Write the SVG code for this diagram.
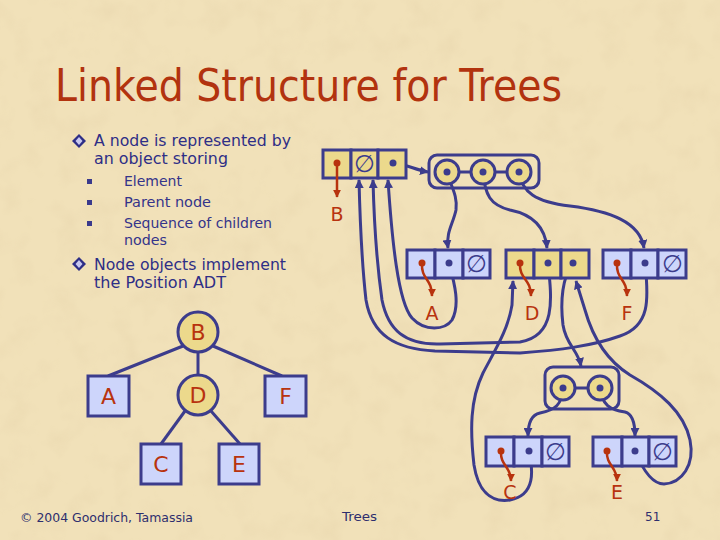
<svg xmlns="http://www.w3.org/2000/svg" width="720" height="540" viewBox="0 0 720 540">
<defs>
<style>
.title{font-family:"DejaVu Sans","Liberation Sans",sans-serif;font-size:44px;fill:#b2330f}
.body{font-family:"DejaVu Sans","Liberation Sans",sans-serif;font-size:16px;fill:#2e2e86}
.sub{font-family:"DejaVu Sans","Liberation Sans",sans-serif;font-size:14px;fill:#34348a}
.foot{font-family:"DejaVu Sans","Liberation Sans",sans-serif;font-size:12px;fill:#2e2e6e}
.lbl{font-family:"DejaVu Sans","Liberation Sans",sans-serif;font-size:19px;fill:#b8330e;text-anchor:middle}
.tl{font-family:"DejaVu Sans","Liberation Sans",sans-serif;font-size:22px;fill:#b8330e;text-anchor:middle}
.nul{font-family:"DejaVu Sans","Liberation Sans",sans-serif;font-size:24px;fill:#3c3c8c;text-anchor:middle;font-weight:200}
.cy{fill:#ecd98c;stroke:#3c3c8c;stroke-width:3}
.cb{fill:#cdd5fb;stroke:#3c3c8c;stroke-width:3}
.dot{fill:#3c3c8c}
.rdot{fill:#b8330e}
.link{fill:none;stroke:#3c3c8c;stroke-width:3;marker-end:url(#ah)}
.plain{fill:none;stroke:#3c3c8c;stroke-width:3}
.rlink{fill:none;stroke:#b8330e;stroke-width:2.5;marker-end:url(#rah)}
.cont{fill:none;stroke:#3c3c8c;stroke-width:3}
.circ{fill:#ecd98c;stroke:#3c3c8c;stroke-width:3}
.edge{stroke:#3c3c8c;stroke-width:3;fill:none}
</style>
<marker id="ah" viewBox="0 0 10 10" refX="9" refY="5" markerWidth="9" markerHeight="9" markerUnits="userSpaceOnUse" orient="auto"><path d="M0,0 L10,5 L0,10 z" fill="#3c3c8c"/></marker>
<marker id="rah" viewBox="0 0 10 10" refX="9" refY="5" markerWidth="8" markerHeight="8" markerUnits="userSpaceOnUse" orient="auto"><path d="M0,0 L10,5 L0,10 z" fill="#b8330e"/></marker>
<filter id="paper" x="0" y="0" width="100%" height="100%">
<feTurbulence type="fractalNoise" baseFrequency="0.035" numOctaves="3" seed="7" result="n"/>
<feColorMatrix in="n" type="matrix" values="0 0 0 0 0.72  0 0 0 0 0.58  0 0 0 0 0.35  0 0 0 -1.4 0.75"/>
</filter>
</defs>
<rect width="720" height="540" fill="#f1e1b9"/>
<rect width="720" height="540" filter="url(#paper)" opacity="0.35"/>

<text class="title" x="55" y="101" textLength="507" lengthAdjust="spacingAndGlyphs">Linked Structure for Trees</text>

<g id="bullets">
<polygon points="79,134 86,141 79,148 72,141" fill="#2e2e86"/>
<polygon points="79,137 82.5,141 79,145 75.5,141" fill="#c8c8f0"/>
<polygon points="79,257 86,264 79,271 72,264" fill="#2e2e86"/>
<polygon points="79,260 82.5,264 79,268 75.5,264" fill="#c8c8f0"/>
<rect x="87" y="179" width="5" height="5" fill="#3a3a8c"/>
<rect x="87" y="200" width="5" height="5" fill="#3a3a8c"/>
<rect x="87" y="221" width="5" height="5" fill="#3a3a8c"/>
</g>
<g id="text">
<text class="body" x="94" y="146" textLength="197" lengthAdjust="spacingAndGlyphs">A node is represented by</text>
<text class="body" x="94" y="164" textLength="134" lengthAdjust="spacingAndGlyphs">an object storing</text>
<text class="sub" x="124" y="186" textLength="58" lengthAdjust="spacingAndGlyphs">Element</text>
<text class="sub" x="124" y="207" textLength="87" lengthAdjust="spacingAndGlyphs">Parent node</text>
<text class="sub" x="124" y="228" textLength="148" lengthAdjust="spacingAndGlyphs">Sequence of children</text>
<text class="sub" x="124" y="245" textLength="43" lengthAdjust="spacingAndGlyphs">nodes</text>
<text class="body" x="94" y="270" textLength="192" lengthAdjust="spacingAndGlyphs">Node objects implement</text>
<text class="body" x="94" y="288" textLength="132" lengthAdjust="spacingAndGlyphs">the Position ADT</text>
</g>

<g id="tree-edges">
<line class="edge" x1="183" y1="346" x2="108" y2="376"/>
<line class="edge" x1="213" y1="346" x2="282" y2="376"/>
<line class="edge" x1="198" y1="352" x2="198" y2="375"/>
<line class="edge" x1="185" y1="411" x2="161" y2="444"/>
<line class="edge" x1="211" y1="411" x2="240" y2="444"/>
</g>
<g id="tB"><circle class="circ" cx="198" cy="332" r="20"/><text class="tl" x="198" y="340">B</text></g>
<g id="tD"><circle class="circ" cx="198" cy="395" r="20"/><text class="tl" x="198" y="403">D</text></g>
<g id="tA"><rect class="cb" x="88" y="376" width="41" height="40"/><text class="tl" x="108.5" y="404">A</text></g>
<g id="tF"><rect class="cb" x="265" y="376" width="41" height="40"/><text class="tl" x="285.5" y="404">F</text></g>
<g id="tC"><rect class="cb" x="141" y="444" width="40" height="40"/><text class="tl" x="161" y="472">C</text></g>
<g id="tE"><rect class="cb" x="219" y="444" width="40" height="40"/><text class="tl" x="239" y="472">E</text></g>

<g id="connectors">
<path class="link" d="M394,163 C405,164 416,170 428,172"/>
<path class="link" d="M447,172 C450,185 458,195 456,210 C453,224 446,232 448,248"/>
<path class="link" d="M483,172 C485,195 490,205 510,210 C530,214 545,225 547,248"/>
<path class="link" d="M519,172 C522,192 535,202 570,206 C610,211 640,222 644,248"/>
<path class="link" d="M449,263 C455,285 460,305 452,320 C445,330 425,332 412,318 C398,302 392,240 388,180"/>
<path class="link" d="M548,263 C552,300 556,336 520,342 L440,344 C405,345 388,330 382,300 C377,265 374,220 373,180"/>
<path class="link" d="M645,263 C649,300 650,326 620,336 C592,346 560,350 520,353 L435,351 C395,349 372,335 366,300 C362,265 360,220 359,180"/>
<path class="link" d="M572,263 C562,280 560,300 563,325 C566,345 578,350 581,366"/>
<path class="link" d="M529,451 C533,470 536,495 510,500 C490,503 478,490 474,465 C470,430 470,400 483,373 C495,350 508,330 512,305 L513,281"/>
<path class="link" d="M635,451 C642,468 652,484 664,484 C682,483 695,465 690,440 C684,412 660,392 630,375 C606,360 592,335 585,310 L576,281"/>
<path class="link" d="M563,388 C562,405 555,410 540,413 C530,415 528,425 528,436"/>
<path class="link" d="M600,388 C602,405 610,410 625,412 C633,414 635,425 635,436"/>
</g>

<g id="nB">
<rect class="cy" x="323" y="150" width="28" height="28"/>
<rect class="cy" x="351" y="150" width="27" height="28"/>
<rect class="cy" x="378" y="150" width="28" height="28"/>
<circle class="rdot" cx="337" cy="163" r="3.5"/>
<text class="nul" x="364.5" y="172">∅</text>
<circle class="dot" cx="393" cy="163" r="3.5"/>
<path class="rlink" d="M337,163 L337,197"/>
<text class="lbl" x="337" y="221">B</text>
</g>

<g id="cB">
<rect class="cont" x="429" y="155" width="110" height="33" rx="8"/>
<line class="plain" x1="459" y1="172" x2="471" y2="172"/>
<line class="plain" x1="495" y1="172" x2="507" y2="172"/>
<circle class="circ" cx="447" cy="172" r="12"/>
<circle class="circ" cx="483" cy="172" r="12"/>
<circle class="circ" cx="519" cy="172" r="12"/>
<circle class="dot" cx="447" cy="172" r="3.5"/>
<circle class="dot" cx="483" cy="172" r="3.5"/>
<circle class="dot" cx="519" cy="172" r="3.5"/>
</g>

<g id="nA">
<rect class="cb" x="407" y="250" width="28" height="28"/>
<rect class="cb" x="435" y="250" width="28" height="28"/>
<rect class="cb" x="463" y="250" width="27" height="28"/>
<circle class="rdot" cx="422" cy="263" r="3.5"/>
<circle class="dot" cx="449" cy="263" r="3.5"/>
<text class="nul" x="476.5" y="272">∅</text>
<path class="rlink" d="M422,263 C421,280 432,278 432,296"/>
<text class="lbl" x="432" y="320">A</text>
</g>

<g id="nD">
<rect class="cy" x="506" y="250" width="28" height="28"/>
<rect class="cy" x="534" y="250" width="27" height="28"/>
<rect class="cy" x="561" y="250" width="28" height="28"/>
<circle class="rdot" cx="520" cy="263" r="3.5"/>
<circle class="dot" cx="548" cy="263" r="3.5"/>
<circle class="dot" cx="573" cy="263" r="3.5"/>
<path class="rlink" d="M520,263 C519,280 531,278 531,296"/>
<text class="lbl" x="532" y="320">D</text>
</g>

<g id="nF">
<rect class="cb" x="603" y="250" width="28" height="28"/>
<rect class="cb" x="631" y="250" width="27" height="28"/>
<rect class="cb" x="658" y="250" width="28" height="28"/>
<circle class="rdot" cx="617" cy="263" r="3.5"/>
<circle class="dot" cx="645" cy="263" r="3.5"/>
<text class="nul" x="672" y="272">∅</text>
<path class="rlink" d="M617,263 C616,280 627,278 627,296"/>
<text class="lbl" x="627" y="320">F</text>
</g>

<g id="cD">
<rect class="cont" x="545" y="367" width="74" height="42" rx="8"/>
<line class="plain" x1="575" y1="388" x2="588" y2="388"/>
<circle class="circ" cx="563" cy="388" r="12"/>
<circle class="circ" cx="600" cy="388" r="12"/>
<circle class="dot" cx="563" cy="388" r="3.5"/>
<circle class="dot" cx="600" cy="388" r="3.5"/>
</g>

<g id="nC">
<rect class="cb" x="486" y="437" width="28" height="29"/>
<rect class="cb" x="514" y="437" width="28" height="29"/>
<rect class="cb" x="542" y="437" width="27" height="29"/>
<circle class="rdot" cx="501" cy="451" r="3.5"/>
<circle class="dot" cx="529" cy="451" r="3.5"/>
<text class="nul" x="555.5" y="460">∅</text>
<path class="rlink" d="M501,451 C500,466 511,466 511,481"/>
<text class="lbl" x="510" y="499">C</text>
</g>

<g id="nE">
<rect class="cb" x="593" y="437" width="29" height="29"/>
<rect class="cb" x="622" y="437" width="27" height="29"/>
<rect class="cb" x="649" y="437" width="27" height="29"/>
<circle class="rdot" cx="607" cy="451" r="3.5"/>
<circle class="dot" cx="635" cy="451" r="3.5"/>
<text class="nul" x="662.5" y="460">∅</text>
<path class="rlink" d="M607,451 C606,466 617,466 617,481"/>
<text class="lbl" x="617" y="499">E</text>
</g>

<g id="footer">
<text class="foot" x="20" y="522" textLength="173" lengthAdjust="spacingAndGlyphs">© 2004 Goodrich, Tamassia</text>
<text class="foot" x="342" y="521" textLength="35" lengthAdjust="spacingAndGlyphs">Trees</text>
<text class="foot" x="645" y="521">51</text>
</g>
</svg>
